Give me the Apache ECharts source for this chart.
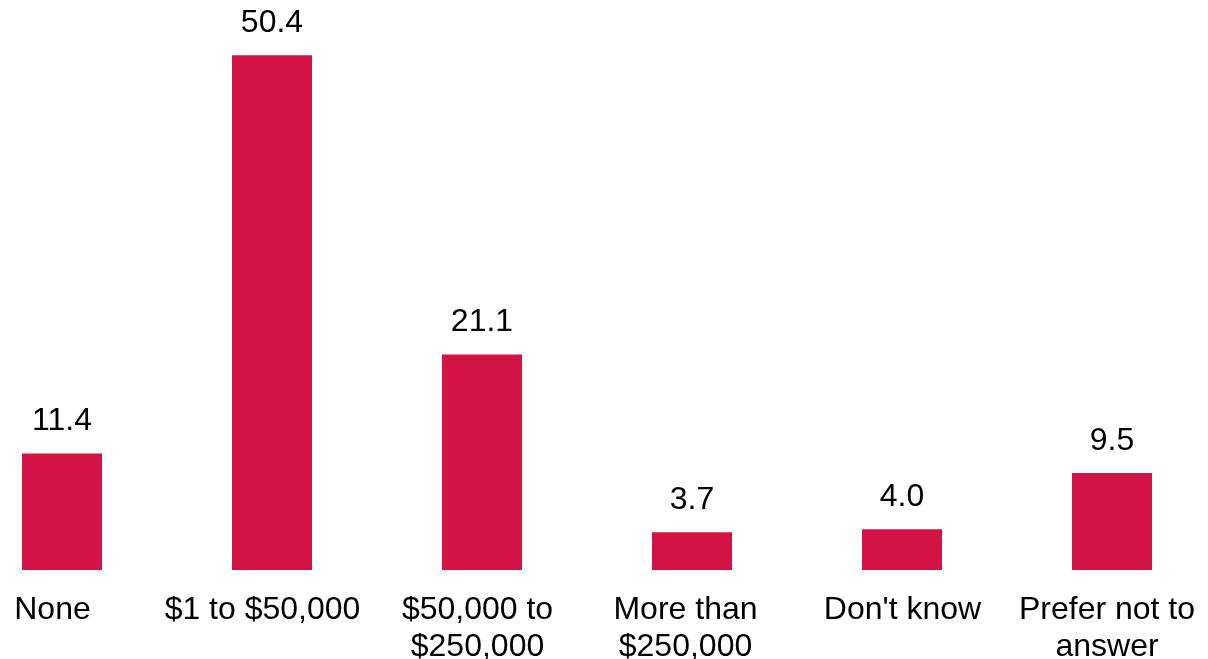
<!DOCTYPE html>
<html lang="en">
<head>
  <meta charset="UTF-8">
  <title>Bar chart</title>
  <script src="https://cdn.jsdelivr.net/npm/echarts@6/dist/echarts.min.js"></script>
  <style>
    html, body { margin: 0; padding: 0; background: #fff; }
    #chart { width: 1208px; height: 659px; }
  </style>
</head>
<body>
<div id="chart"></div>
<script>
  var categories = ['None', '$1 to $50,000', '$50,000 to\n$250,000', 'More than\n$250,000', "Don't know", 'Prefer not to\nanswer'];
  var values = [11.4, 50.4, 21.1, 3.7, 4.0, 9.5];
  // small horizontal nudges of the category labels, as in the source
  var labelShift = [-9.5, -9.5, -4.5, -6.5, 0.5, -5];

  var chart = echarts.init(document.getElementById('chart'));

  var catData = categories.map(function (c, i) {
    var s = labelShift[i];
    return {
      value: c,
      textStyle: { padding: s < 0 ? [0, -2 * s, 0, 0] : [0, 0, 0, 2 * s] }
    };
  });

  var option = {
    animation: false,
    grid: { left: -43, right: -9, top: 0, bottom: 89, outerBoundsMode: 'none' },
    xAxis: {
      type: 'category',
      data: catData,
      axisLine: { show: false },
      axisTick: { show: false },
      axisLabel: {
        interval: 0,
        color: '#000',
        fontFamily: 'Liberation Sans, Arial, sans-serif',
        fontSize: 32,
        lineHeight: 37,
        margin: 22
      }
    },
    yAxis: {
      type: 'value',
      min: 0,
      max: 55.8,
      show: false,
      splitLine: { show: false }
    },
    series: [{
      type: 'bar',
      data: values,
      barWidth: 80,
      itemStyle: { color: '#D31245' },
      label: {
        show: true,
        position: 'top',
        distance: 16,
        color: '#000',
        fontFamily: 'Liberation Sans, Arial, sans-serif',
        fontSize: 32,
        formatter: function (p) { return p.value.toFixed(1); }
      }
    }]
  };

  chart.setOption(option);
</script>
</body>
</html>
